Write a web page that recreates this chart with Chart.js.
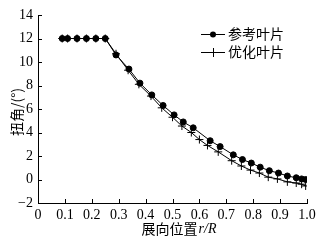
<!DOCTYPE html>
<html>
<head>
<meta charset="utf-8">
<script src="https://cdn.jsdelivr.net/npm/chart.js@4"></script>
<style>
  html, body { margin: 0; padding: 0; background: #fff; }
  #wrap { width: 326px; height: 243px; position: relative; }
</style>
</head>
<body>
<div id="wrap"><canvas id="chart" width="326" height="243"></canvas></div>
<script>
// reference blade (dots)
const refX = [0.09, 0.11, 0.145, 0.18, 0.215, 0.25, 0.29, 0.338, 0.379, 0.423, 0.465, 0.506, 0.54, 0.577, 0.64, 0.677, 0.726, 0.76, 0.793, 0.826, 0.86, 0.894, 0.927, 0.96, 0.98, 0.995];
const refY = [12, 12, 12, 12, 12, 12, 10.6, 9.4, 8.2, 7.2, 6.3, 5.5, 4.9, 4.4, 3.3, 2.8, 2.1, 1.7, 1.4, 1.05, 0.75, 0.55, 0.3, 0.15, 0.05, 0.0];
// optimised blade (crosses)
const optX = [0.09, 0.11, 0.145, 0.18, 0.215, 0.25, 0.29, 0.335, 0.375, 0.42, 0.46, 0.50, 0.535, 0.57, 0.60, 0.63, 0.67, 0.72, 0.756, 0.79, 0.823, 0.856, 0.89, 0.927, 0.96, 0.98, 0.995];
const optY = [12, 12, 12, 12, 12, 12, 10.7, 9.3, 8.1, 7.1, 6.1, 5.3, 4.55, 4.0, 3.4, 2.9, 2.35, 1.6, 1.15, 0.8, 0.55, 0.2, 0.05, -0.2, -0.3, -0.4, -0.55];

const xTicks = [0, 0.1, 0.2, 0.3, 0.4, 0.5, 0.6, 0.7, 0.8, 0.9, 1.0];
const xTickLabels = ["0", "0.1", "0.2", "0.3", "0.4", "0.5", "0.6", "0.7", "0.8", "0.9", "1.0"];
const yTicks = [-2, 0, 2, 4, 6, 8, 10, 12, 14];
const yTickLabels = ["\u22122", "0", "2", "4", "6", "8", "10", "12", "14"];

const seriesNames = ["参考叶片", "优化叶片"];

const serif = "'Liberation Serif', 'DejaVu Serif', serif";
const cjk = "'Noto Sans CJK SC', sans-serif";

const toPts = (xs, ys) => xs.map((x, i) => ({ x: x, y: ys[i] }));

// inward tick marks, legend and axis titles
const decor = {
  id: "decor",
  afterDraw(chart) {
    const ctx = chart.ctx;
    const xs = chart.scales.x, ys = chart.scales.y;
    const area = chart.chartArea;
    ctx.save();
    ctx.strokeStyle = "#000";
    ctx.lineWidth = 1;
    ctx.beginPath();
    xTicks.forEach((v) => {
      const px = Math.round(xs.getPixelForValue(v)) + 0.5;
      ctx.moveTo(px, area.bottom);
      ctx.lineTo(px, area.bottom - 4);
    });
    yTicks.forEach((v) => {
      const py = Math.round(ys.getPixelForValue(v)) + 0.5;
      ctx.moveTo(area.left, py);
      ctx.lineTo(area.left + 4, py);
    });
    ctx.stroke();

    // legend
    const lx = 201, rows = [34, 52];
    rows.forEach((y, i) => {
      ctx.beginPath();
      ctx.moveTo(lx, y + 0.5);
      ctx.lineTo(lx + 24, y + 0.5);
      ctx.stroke();
      const mx = lx + 12;
      if (i === 0) {
        ctx.beginPath();
        ctx.arc(mx, y + 0.5, 3, 0, Math.PI * 2);
        ctx.fillStyle = "#000";
        ctx.fill();
      } else {
        ctx.beginPath();
        ctx.moveTo(mx + 0.5, y - 4);
        ctx.lineTo(mx + 0.5, y + 5);
        ctx.stroke();
      }
      ctx.fillStyle = "#000";
      ctx.font = "14px " + cjk;
      ctx.textBaseline = "middle";
      ctx.textAlign = "left";
      ctx.fillText(seriesNames[i], lx + 27, y);
    });

    // x axis title
    ctx.textBaseline = "middle";
    const t1 = "展向位置", t2 = "r/R";
    ctx.font = "14px " + cjk;
    const w1 = ctx.measureText(t1).width;
    ctx.font = "italic 14px " + serif;
    const w2 = ctx.measureText(t2).width;
    const cx = (area.left + area.right) / 2 + 6;
    const x0 = cx - (w1 + w2) / 2;
    ctx.font = "14px " + cjk;
    ctx.fillText(t1, x0, 229);
    ctx.font = "italic 14px " + serif;
    ctx.fillText(t2, x0 + w1 + 1, 229);

    // y axis title
    ctx.save();
    ctx.translate(17, 112);
    ctx.rotate(-Math.PI / 2);
    ctx.textAlign = "center";
    ctx.font = "14px " + cjk;
    ctx.fillText("扭角/(°)", 0, 0);
    ctx.restore();
    ctx.restore();
  }
};

new Chart(document.getElementById("chart").getContext("2d"), {
  type: "scatter",
  data: {
    datasets: [
      {
        label: seriesNames[0],
        data: toPts(refX, refY),
        showLine: true,
        borderColor: "#000",
        backgroundColor: "#000",
        borderWidth: 1,
        pointStyle: "circle",
        pointRadius: 3,
        tension: 0,
      },
      {
        label: seriesNames[1],
        data: toPts(optX, optY),
        showLine: true,
        borderColor: "#000",
        backgroundColor: "#000",
        borderWidth: 1,
        pointStyle: "cross",
        pointRadius: 4,
        pointBorderWidth: 1,
        tension: 0,
      },
    ],
  },
  options: {
    responsive: false,
    animation: false,
    layout: { padding: { left: 0, right: 19, top: 15, bottom: 0 } },
    plugins: { legend: { display: false }, tooltip: { enabled: false } },
    scales: {
      x: {
        type: "linear",
        min: 0,
        max: 1,
        afterBuildTicks: (s) => { s.ticks = xTicks.map((v) => ({ value: v })); },
        afterFit: (s) => { s.height = 40; },
        grid: { display: false, drawTicks: false },
        border: { display: true, color: "#000", width: 1 },
        ticks: {
          padding: 4,
          color: "#000",
          font: { family: serif, size: 14 },
          maxRotation: 0,
          autoSkip: false,
          callback: (v) => xTickLabels[xTicks.findIndex((t) => Math.abs(t - v) < 1e-6)],
        },
      },
      y: {
        min: -2,
        max: 14,
        afterBuildTicks: (s) => { s.ticks = yTicks.map((v) => ({ value: v })); },
        afterFit: (s) => { s.width = 38; },
        grid: { display: false, drawTicks: false },
        border: { display: true, color: "#000", width: 1 },
        ticks: {
          padding: 5,
          color: "#000",
          font: { family: serif, size: 14 },
          autoSkip: false,
          callback: (v) => yTickLabels[yTicks.indexOf(v)],
        },
      },
    },
  },
  plugins: [decor],
});
</script>
</body>
</html>
